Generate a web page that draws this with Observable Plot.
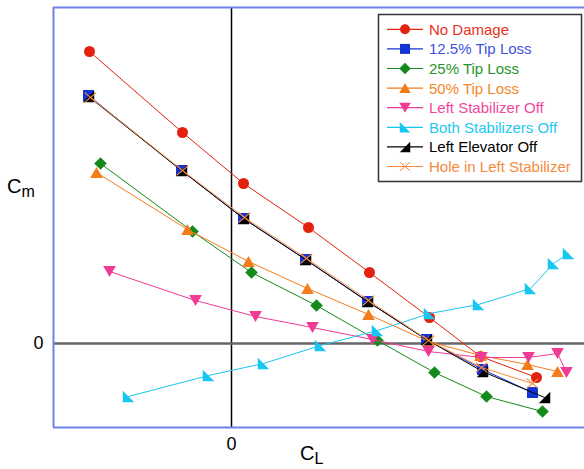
<!DOCTYPE html>
<html><head><meta charset="utf-8">
<script src="https://cdn.jsdelivr.net/npm/d3@7"></script>
<script src="https://cdn.jsdelivr.net/npm/@observablehq/plot@0.6"></script>
<style>
body{margin:0;background:#fff;font-family:"Liberation Sans",Arial,sans-serif}
#chart{position:relative;width:584px;height:469px}
</style>
</head><body><div id="chart"></div>
<script>
// Series names / colors
const seriesNames = ["No Damage","12.5% Tip Loss","25% Tip Loss","50% Tip Loss","Left Stabilizer Off","Both Stabilizers Off","Left Elevator Off","Hole in Left Stabilizer"];
const seriesColors = ["#e3210f","#1433d6","#138a1b","#f47d1b","#f03a94","#18c6f2","#000000","#f58a3c"];
const textColors = ["#e8321f","#3e52e0","#1f962a","#f5862a","#f2479c","#22c8f2","#000000","#f58a3c"];

// Values (C_L, C_m) (arbitrary units, 0 at the axes crossing)
const noDamageX = [-1.42,-0.49,0.12,0.77,1.38,1.98,2.49,3.05];
const noDamageY = [2.92,2.11,1.60,1.16,0.71,0.26,-0.13,-0.34];
const tip125X = [-1.43,-0.50,0.12,0.74,1.36,1.95,2.51,3.01];
const tip125Y = [2.48,1.73,1.25,0.84,0.42,0.04,-0.26,-0.49];
const tip25X = [-1.31,-0.39,0.20,0.85,1.46,2.03,2.55,3.11];
const tip25Y = [1.80,1.12,0.71,0.38,0.03,-0.29,-0.53,-0.68];
const tip50X = [-1.35,-0.44,0.17,0.76,1.37,1.97,2.49,2.96,3.26];
const tip50Y = [1.71,1.14,0.82,0.55,0.29,0.02,-0.12,-0.21,-0.28];
const leftStabX = [-1.22,-0.36,0.24,0.81,1.41,1.97,2.50,2.97,3.26,3.35];
const leftStabY = [0.72,0.43,0.27,0.16,0.04,-0.08,-0.14,-0.14,-0.10,-0.29];
const bothStabX = [-1.03,-0.23,0.32,0.89,1.46,1.98,2.47,2.99,3.22,3.37];
const bothStabY = [-0.53,-0.32,-0.20,-0.02,0.13,0.30,0.39,0.55,0.80,0.90];
const leftElevX = [-1.43,-0.50,0.12,0.74,1.36,1.95,2.51,3.13];
const leftElevY = [2.47,1.73,1.25,0.84,0.42,0.04,-0.28,-0.54];
const holeX = [-1.41,-0.49,0.13,0.75,1.37,1.97,2.50,3.01];
const holeY = [2.46,1.73,1.26,0.85,0.43,0.03,-0.24,-0.40];

const xDomain = [-1.78, 3.53];
const yDomain = [-0.84, 3.36];
const zeroTicks = [0];

// custom symbols
const poly = (pts) => ({draw(ctx, size){const r=Math.sqrt(size/Math.PI); pts.forEach(([a,b],i)=> i? ctx.lineTo(a*r,b*r) : ctx.moveTo(a*r,b*r)); ctx.closePath();}});
const symCircle = {draw(ctx,size){const r=Math.sqrt(size/Math.PI); ctx.moveTo(r,0); ctx.arc(0,0,r,0,2*Math.PI);}};
const symSquare = poly([[-1,-1],[1,-1],[1,1],[-1,1]]);
const symDiamond = poly([[0,-1.15],[1.15,0],[0,1.15],[-1.15,0]]);
const symUp = poly([[0,-1],[1.15,1],[-1.15,1]]);
const symDown = poly([[0,1],[1.15,-1],[-1.15,-1]]);
const symCornerBL = poly([[-1.05,-1.05],[1.05,1.05],[-1.05,1.05]]);
const symCornerBR = poly([[1.05,-1.05],[1.05,1.05],[-1.05,1.05]]);
const symX = {draw(ctx,size){const r=Math.sqrt(size/Math.PI)*1.05; ctx.moveTo(-r,-r*0.85); ctx.lineTo(r,r*0.85); ctx.moveTo(-r,r*0.85); ctx.lineTo(r,-r*0.85);}};
const seriesSymbols = [symCircle,symSquare,symDiamond,symUp,symDown,symCornerBL,symCornerBR,symX];

const xs = [noDamageX,tip125X,tip25X,tip50X,leftStabX,bothStabX,leftElevX,holeX];
const ys = [noDamageY,tip125Y,tip25Y,tip50Y,leftStabY,bothStabY,leftElevY,holeY];
const series = seriesNames.map((name,i)=>xs[i].map((x,j)=>({name, x, y: ys[i][j]})));

const marks = [
  Plot.ruleX(zeroTicks, {stroke:"#000", strokeWidth:1.5}),
  Plot.ruleY(zeroTicks, {stroke:"#666", strokeWidth:2.5}),
];
series.forEach((rows,i)=>{
  const isX = i === 7;
  marks.push(Plot.line(rows,{x:"x",y:"y",stroke:seriesColors[i],strokeWidth:1}));
  marks.push(Plot.dot(rows,{x:"x",y:"y",symbol:seriesSymbols[i],r:5.5,
    fill: isX ? "none" : seriesColors[i], stroke: isX ? seriesColors[i] : "none", strokeWidth: isX ? 1.2 : 0}));
});
marks.push(
  Plot.ruleX([xDomain[0]], {stroke:"#7082ea", strokeWidth:2}),
  Plot.ruleY(yDomain, {stroke:"#7082ea", strokeWidth:2}),
  Plot.axisX({ticks:zeroTicks, tickSize:0, tickPadding:10, fontSize:18, label:null, tickFormat:d=>String(d)}),
  Plot.axisY({ticks:zeroTicks, tickSize:0, tickPadding:10, fontSize:18, label:null, tickFormat:d=>String(d)})
);

const plot = Plot.plot({
  width:584, height:469,
  marginTop:7, marginLeft:53, marginRight:0, marginBottom:42,
  x:{domain:xDomain},
  y:{domain:yDomain},
  style:{fontFamily:"'Liberation Sans', Arial, sans-serif", color:"#000", background:"#fff"},
  marks
});
document.getElementById("chart").appendChild(plot);

const svg = d3.select(plot);
const FF = "'Liberation Sans', Arial, sans-serif";
// axis titles with subscripts
const cm = svg.append("text").attr("x",7).attr("y",193).attr("font-size",20).attr("fill","#000")
  .attr("text-anchor","start").attr("font-family",FF);
cm.append("tspan").text("C");
cm.append("tspan").attr("font-size",16).attr("dy",4).text("m");
const cl = svg.append("text").attr("x",300).attr("y",460).attr("font-size",20).attr("fill","#000")
  .attr("text-anchor","start").attr("font-family",FF);
cl.append("tspan").text("C");
cl.append("tspan").attr("font-size",16).attr("dy",4).text("L");

// legend
const lg = svg.append("g").attr("font-family",FF).attr("text-anchor","start");
lg.append("rect").attr("x",378.5).attr("y",14.5).attr("width",203).attr("height",167)
  .attr("fill","#fff").attr("stroke","#333").attr("stroke-width",1.5);
seriesNames.forEach((name,i)=>{
  const cy = 29.3 + i*19.6;
  const g = lg.append("g");
  g.append("line").attr("x1",387).attr("x2",423).attr("y1",cy).attr("y2",cy)
    .attr("stroke",seriesColors[i]).attr("stroke-width",1.2);
  const isX = i===7;
  g.append("path").attr("transform",`translate(405,${cy})`)
    .attr("d", d3.symbol(seriesSymbols[i], Math.PI*5*5)())
    .attr("fill", isX ? "none" : seriesColors[i]).attr("stroke", isX ? seriesColors[i] : "none");
  g.append("text").attr("x",429).attr("y",cy+5.5).attr("font-size",15).attr("fill",textColors[i])
    .attr("text-anchor","start").text(name);
});
</script>
</body></html>
